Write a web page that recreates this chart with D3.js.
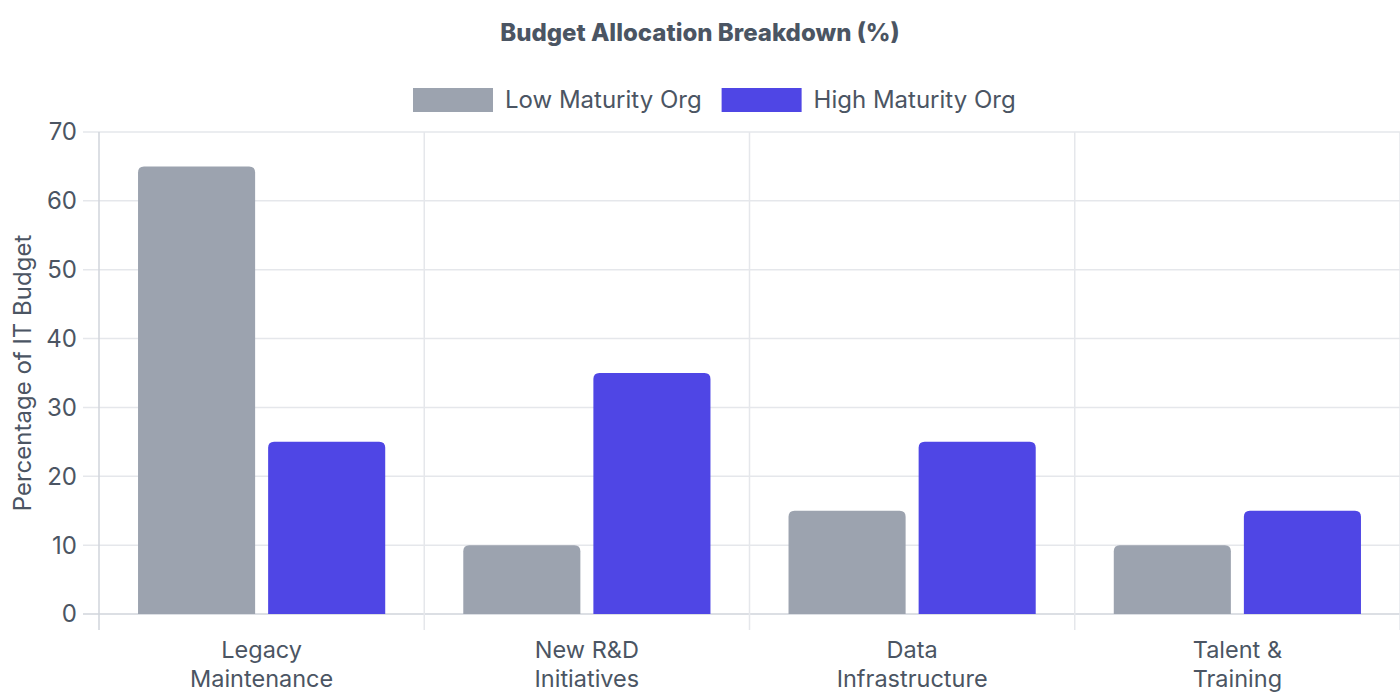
<!DOCTYPE html>
<html>
<head>
<meta charset="utf-8">
<script src="https://cdn.jsdelivr.net/npm/d3@7"></script>
<style>
  body { margin: 0; background: #fff; }
  svg { font-family: Inter, "Noto Sans", sans-serif; }
</style>
</head>
<body>
<svg id="chart" width="1400" height="700"></svg>
<script>
  // data
  var categories = [["Legacy", "Maintenance"], ["New R&D", "Initiatives"], ["Data", "Infrastructure"], ["Talent &", "Training"]];
  var seriesNames = ["Low Maturity Org", "High Maturity Org"];
  var lowMaturity = [65, 10, 15, 10];
  var highMaturity = [25, 35, 25, 15];
  var yTicks = [0, 10, 20, 30, 40, 50, 60, 70];
  var colors = ["#9ca3af", "#4f46e5"];

  var textColor = "#4b5563";
  var plot = { left: 99, right: 1400, top: 132, bottom: 614 };

  var svg = d3.select("#chart");

  var x0 = d3.scaleBand()
    .domain(d3.range(categories.length))
    .range([plot.left, plot.right]);

  var y = d3.scaleLinear().domain([0, 70]).range([plot.bottom, plot.top]);

  // grid lines
  var grid = svg.append("g");
  grid.selectAll(".hg").data(yTicks).enter().append("line")
    .attr("x1", plot.left - 16).attr("x2", plot.right)
    .attr("y1", function (d) { return y(d); }).attr("y2", function (d) { return y(d); })
    .attr("stroke", function (d) { return d === 0 ? "#d1d5db" : "#e5e7eb"; })
    .attr("stroke-width", 1.5);

  var vlines = d3.range(categories.length + 1).map(function (i) { return plot.left + i * x0.bandwidth(); });
  grid.selectAll(".vg").data(vlines).enter().append("line")
    .attr("x1", function (d) { return d; }).attr("x2", function (d) { return d; })
    .attr("y1", plot.top).attr("y2", plot.bottom + 16)
    .attr("stroke", function (d, i) { return i === 0 ? "#d1d5db" : "#e5e7eb"; })
    .attr("stroke-width", 1.5);

  // y tick labels
  svg.append("g").selectAll("text").data(yTicks).enter().append("text")
    .attr("x", 77).attr("y", function (d) { return y(d); })
    .attr("dy", "0.35em")
    .attr("text-anchor", "end")
    .attr("fill", textColor)
    .style("font-size", "24px")
    .text(function (d) { return d; });

  // bars
  var catW = x0.bandwidth() * 0.8;
  var barW = catW / 2 * 0.9;
  var r = 6;

  function topRounded(x, yTop, w, h) {
    return "M" + x + "," + (yTop + h) +
      "V" + (yTop + r) +
      "Q" + x + "," + yTop + " " + (x + r) + "," + yTop +
      "H" + (x + w - r) +
      "Q" + (x + w) + "," + yTop + " " + (x + w) + "," + (yTop + r) +
      "V" + (yTop + h) + "Z";
  }

  [lowMaturity, highMaturity].forEach(function (vals, s) {
    svg.append("g").selectAll("path").data(vals).enter().append("path")
      .attr("fill", colors[s])
      .attr("d", function (d, i) {
        var c = x0(i) + x0.bandwidth() / 2;
        var slotStart = c - catW / 2 + s * catW / 2;
        var bx = slotStart + (catW / 2 - barW) / 2;
        return topRounded(bx, y(d), barW, y(0) - y(d));
      });
  });

  // x labels
  var xl = svg.append("g").selectAll("text").data(categories).enter().append("text")
    .attr("x", function (d, i) { return x0(i) + x0.bandwidth() / 2; })
    .attr("text-anchor", "middle")
    .attr("fill", textColor)
    .style("font-size", "23.5px");
  xl.selectAll("tspan").data(function (d) { return d; }).enter().append("tspan")
    .attr("x", function () { return d3.select(this.parentNode).attr("x"); })
    .attr("y", function (d, j) { return 658 + j * 29; })
    .text(function (d) { return d; });

  // y axis title
  svg.append("text")
    .attr("transform", "translate(31," + ((plot.top + plot.bottom) / 2) + ") rotate(-90)")
    .attr("text-anchor", "middle")
    .attr("fill", textColor)
    .style("font-size", "24px")
    .text("Percentage of IT Budget");

  // title
  svg.append("text")
    .attr("x", 700).attr("y", 41)
    .attr("text-anchor", "middle")
    .attr("fill", textColor)
    .style("font-size", "24px")
    .style("font-weight", "800")
    .text("Budget Allocation Breakdown (%)");

  // legend
  var legend = svg.append("g");
  var lx = 413;
  seriesNames.forEach(function (name, i) {
    legend.append("rect")
      .attr("x", lx).attr("y", 88).attr("width", 80).attr("height", 24)
      .attr("fill", colors[i]);
    var t = legend.append("text")
      .attr("x", lx + 92).attr("y", 100).attr("dy", "0.35em")
      .attr("fill", textColor)
      .style("font-size", "24px")
      .text(name);
    lx += 92 + t.node().getComputedTextLength() + 20;
  });
</script>
</body>
</html>
